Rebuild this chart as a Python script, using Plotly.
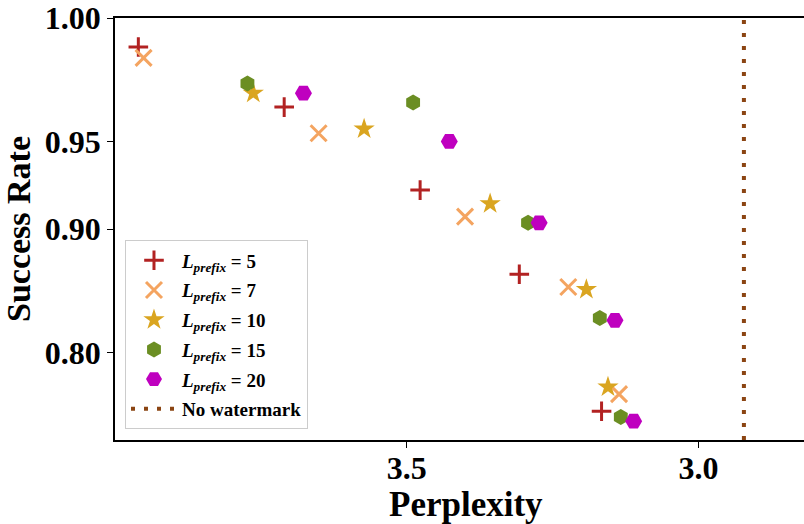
import plotly.graph_objects as go
import math

# ---- data ----
series_names = ["5", "7", "10", "15", "20"]
ppl_5 = [3.960, 3.710, 3.477, 3.307, 3.166]
sr_5 = [0.990, 0.966, 0.924, 0.868, 0.736]
ppl_7 = [3.951, 3.651, 3.400, 3.223, 3.136]
sr_7 = [0.986, 0.954, 0.908, 0.858, 0.756]
ppl_10 = [3.763, 3.573, 3.357, 3.192, 3.155]
sr_10 = [0.972, 0.956, 0.916, 0.856, 0.764]
ppl_15 = [3.773, 3.489, 3.292, 3.169, 3.133]
sr_15 = [0.976, 0.968, 0.904, 0.832, 0.729]
ppl_20 = [3.677, 3.427, 3.273, 3.143, 3.111]
sr_20 = [0.972, 0.950, 0.904, 0.830, 0.724]
no_watermark_ppl = 2.922
y_tick_values = [1.00, 0.95, 0.90, 0.80]
y_limits = [0.70, 1.00]
x_tick_values = [3.5, 3.0]

# y axis uses a log scale on (OFFSET - success rate)
OFFSET = 1.1
def yt(vals):
    return [OFFSET - v for v in vals]

FONT = "Liberation Serif"
colors = ["#b22222", "#f4a460", "#daa520", "#6b8e23", "#bf00bf"]
symbols = ["cross-thin", "x-thin", "star", "hexagon", "hexagon2"]
sizes = [14, 16, 16, 16, 17]
xs = [ppl_5, ppl_7, ppl_10, ppl_15, ppl_20]
ys = [sr_5, sr_7, sr_10, sr_15, sr_20]

fig = go.Figure()
for i, name in enumerate(series_names):
    thin = symbols[i] in ("cross-thin", "x-thin")
    marker = dict(symbol=symbols[i], size=sizes[i], color=colors[i])
    if thin:
        marker["line"] = dict(color=colors[i], width=3)
    else:
        marker["line"] = dict(width=0)
    fig.add_trace(go.Scatter(
        x=xs[i], y=yt(ys[i]), mode="markers", marker=marker,
        name="<i>L</i><sub><i>prefix</i></sub> = " + name,
        legendgroup="g" + name,
    ))

fig.add_trace(go.Scatter(
    x=[no_watermark_ppl, no_watermark_ppl], y=yt(y_limits), mode="lines",
    line=dict(color="#8b4513", width=4, dash="4px,9px"),
    name="No watermark", legendgroup="nw",
))

fig.update_layout(
    width=804, height=524,
    margin=dict(l=115, r=0, t=18, b=83.5, autoexpand=False),
    plot_bgcolor="white", paper_bgcolor="white",
    font=dict(family=FONT, color="black", size=19, weight="bold"),
    showlegend=True,
    legend=dict(
        x=0.0145, y=0.025, xanchor="left", yanchor="bottom",
        bgcolor="rgba(255,255,255,0.85)", bordercolor="#cccccc", borderwidth=1,
        font=dict(family=FONT, size=19, color="black", weight="bold"),
        tracegroupgap=2, itemwidth=46,
    ),
    xaxis=dict(
        range=[4.0, 2.819], tickvals=x_tick_values, ticktext=["3.5", "3.0"],
        showgrid=False, zeroline=False, showline=True, linecolor="black",
        linewidth=1.5, mirror=True, ticks="outside", ticklen=6, tickwidth=1.2,
        tickcolor="black", automargin=False, ticklabelstandoff=-7,
        tickfont=dict(family=FONT, size=32, weight="bold"),
    ),
    yaxis=dict(
        type="log", range=[math.log10(OFFSET - y_limits[0]), math.log10(OFFSET - y_limits[1])],
        tickvals=yt(y_tick_values), ticktext=["%.2f" % v for v in y_tick_values],
        showgrid=False, zeroline=False, showline=True, linecolor="black",
        linewidth=1.5, mirror=False, ticks="outside", ticklen=6, tickwidth=1.2,
        tickcolor="black", automargin=False,
        tickfont=dict(family=FONT, size=32, weight="bold"),
        title=dict(text="Success Rate", font=dict(family=FONT, size=34, weight="bold"), standoff=8),
    ),
    annotations=[dict(
        text="Perplexity", xref="paper", yref="paper", x=0.510, y=-0.1527,
        xanchor="center", yanchor="middle", showarrow=False,
        font=dict(family=FONT, size=35, weight="bold", color="black"),
    )],
)

fig.write_html("out.html")
